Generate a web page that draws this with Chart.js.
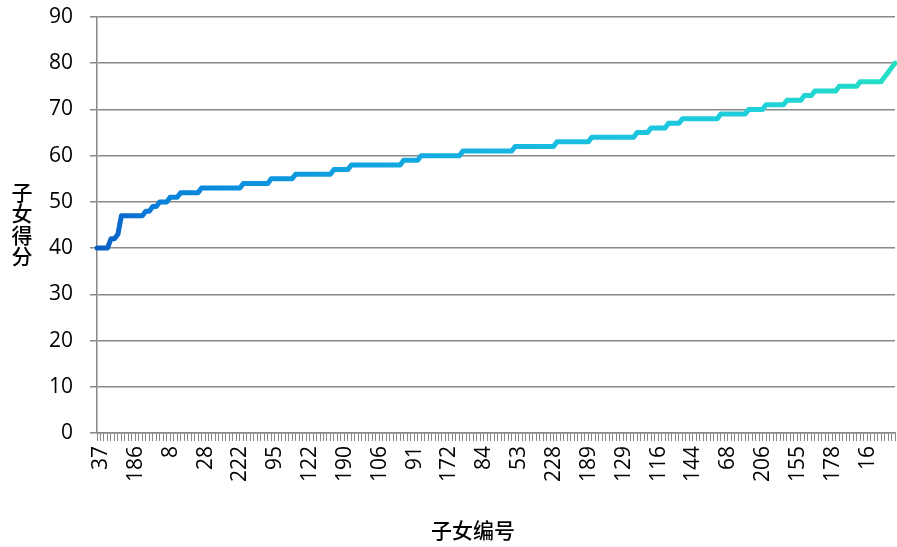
<!DOCTYPE html>
<html>
<head>
<meta charset="utf-8">
<script src="https://cdn.jsdelivr.net/npm/chart.js@4"></script>
<style>
  html, body { margin: 0; padding: 0; background: #ffffff; }
  #wrap { width: 897px; height: 547px; position: relative; }
</style>
</head>
<body>
<div id="wrap"><canvas id="c" width="897" height="547"></canvas></div>
<script>
// Child scores, sorted ascending (one entry per child)
const scores = [
  40, 40, 40, 40,
  42, 42,
  43,
  47, 47, 47, 47, 47, 47, 47,
  48, 48,
  49, 49,
  50, 50, 50,
  51, 51, 51,
  52, 52, 52, 52, 52, 52,
  53, 53, 53, 53, 53, 53, 53, 53, 53, 53, 53, 53,
  54, 54, 54, 54, 54, 54, 54, 54,
  55, 55, 55, 55, 55, 55, 55,
  56, 56, 56, 56, 56, 56, 56, 56, 56, 56, 56,
  57, 57, 57, 57, 57,
  58, 58, 58, 58, 58, 58, 58, 58, 58, 58, 58, 58, 58, 58, 58,
  59, 59, 59, 59, 59,
  60, 60, 60, 60, 60, 60, 60, 60, 60, 60, 60, 60,
  61, 61, 61, 61, 61, 61, 61, 61, 61, 61, 61, 61, 61, 61, 61,
  62, 62, 62, 62, 62, 62, 62, 62, 62, 62, 62, 62,
  63, 63, 63, 63, 63, 63, 63, 63, 63, 63,
  64, 64, 64, 64, 64, 64, 64, 64, 64, 64, 64, 64, 64,
  65, 65, 65, 65,
  66, 66, 66, 66, 66,
  67, 67, 67, 67,
  68, 68, 68, 68, 68, 68, 68, 68, 68, 68, 68,
  69, 69, 69, 69, 69, 69, 69, 69,
  70, 70, 70, 70, 70,
  71, 71, 71, 71, 71, 71,
  72, 72, 72, 72, 72,
  73, 73, 73,
  74, 74, 74, 74, 74, 74, 74,
  75, 75, 75, 75, 75, 75,
  76, 76, 76, 76, 76, 76, 76,
  77,
  78,
  79,
  80
];

// Child numbers shown under the axis (every 10th child)
const tickLabels = [
  '37', '186', '8', '28', '222', '95', '122', '190', '106', '91', '172', '84',
  '53', '228', '189', '129', '116', '144', '68', '206', '155', '178', '16'
];
const labelEvery = 10;

const xTitle = '子女编号';
const yTitle = ['子', '女', '得', '分'];

const categories = scores.map((_, i) => (i % labelEvery === 0 ? (tickLabels[i / labelEvery] || '') : ''));

const tickFont = { family: 'Open Sans', size: 21 };
const gridColor = '#888888';

// Left-to-right blue to teal stroke
function lineGradient(ctx) {
  const chart = ctx.chart;
  const area = chart.chartArea;
  if (!area) return '#1aa0dc';
  const g = chart.ctx.createLinearGradient(area.left, 0, area.right, 0);
  g.addColorStop(0.00, 'rgb(10,92,198)');
  g.addColorStop(0.08, 'rgb(8,130,218)');
  g.addColorStop(0.30, 'rgb(15,160,224)');
  g.addColorStop(0.55, 'rgb(24,186,226)');
  g.addColorStop(0.80, 'rgb(30,206,220)');
  g.addColorStop(1.00, 'rgb(36,222,196)');
  return g;
}

// Axis titles: horizontal under the x axis, stacked upright characters for y
const axisTitles = {
  id: 'axisTitles',
  afterDraw(chart) {
    const c = chart.ctx;
    c.save();
    c.fillStyle = '#000000';
    c.font = '500 21px "Noto Sans CJK SC"';
    c.textAlign = 'center';
    c.textBaseline = 'middle';
    c.fillText(xTitle, 473, 530);
    yTitle.forEach((ch, i) => c.fillText(ch, 22, 192 + i * 21.5));
    c.restore();
  }
};

new Chart(document.getElementById('c'), {
  type: 'line',
  data: {
    labels: categories,
    datasets: [{
      data: scores,
      borderColor: lineGradient,
      borderWidth: 5,
      pointRadius: 0,
      tension: 0,
      fill: false,
      borderJoinStyle: 'round',
      borderCapStyle: 'round'
    }]
  },
  options: {
    responsive: false,
    animation: false,
    events: [],
    layout: { padding: { left: 0, right: 2, top: 17, bottom: 0 } },
    plugins: { legend: { display: false }, tooltip: { enabled: false } },
    scales: {
      x: {
        type: 'category',
        offset: false,
        grid: {
          display: true,
          drawOnChartArea: false,
          drawTicks: true,
          tickLength: 8,
          tickColor: gridColor,
          lineWidth: 1
        },
        border: { display: true, color: gridColor, width: 1.5 },
        ticks: {
          autoSkip: false,
          maxRotation: 90,
          minRotation: 90,
          padding: 5,
          labelOffset: 4,
          color: '#000000',
          font: tickFont
        },
        afterFit(scale) {
          scale.height = 114;
          scale.paddingLeft = 0;
          scale.paddingRight = 0;
        }
      },
      y: {
        min: 0,
        max: 90,
        ticks: {
          stepSize: 10,
          padding: 17,
          color: '#000000',
          font: tickFont
        },
        grid: {
          color: gridColor,
          lineWidth: 1.5,
          drawTicks: true,
          tickLength: 7
        },
        border: { display: true, color: gridColor, width: 1.5 },
        afterFit(scale) {
          scale.width = 97;
          scale.paddingTop = 0;
          scale.paddingBottom = 0;
        }
      }
    }
  },
  plugins: [axisTitles]
});
</script>
</body>
</html>
